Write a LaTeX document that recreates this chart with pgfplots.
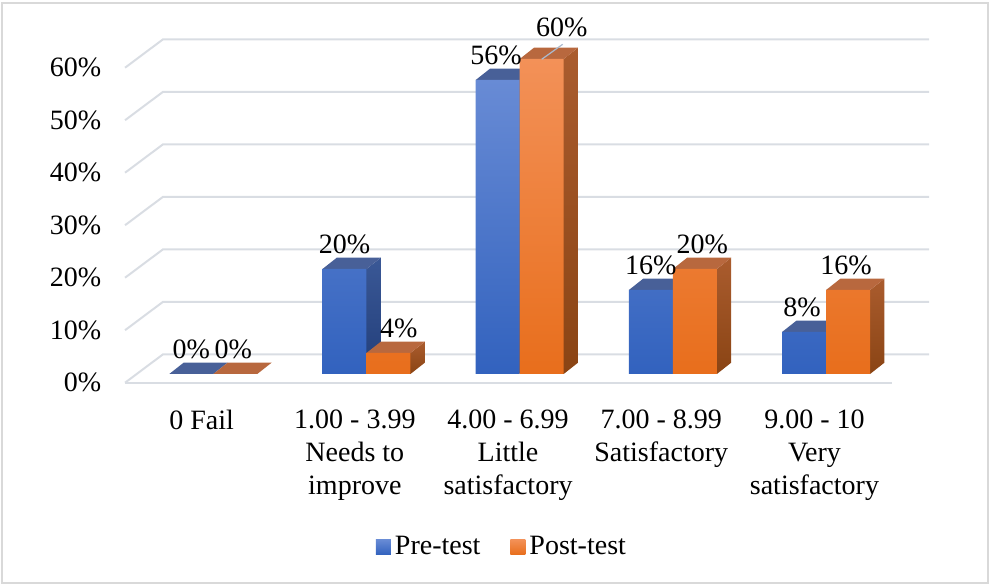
\documentclass[border=0pt]{standalone}
\usepackage{pgfplots}
\pgfplotsset{compat=1.18}
\usepackage{pgfplotstable}
\usepackage{fontspec}
\setmainfont{Liberation Serif}
\newcommand\fs{\fontsize{14}{16.65}\selectfont}
\definecolor{blueTop}{RGB}{104,139,213}
\definecolor{blueBot}{RGB}{50,98,190}
\definecolor{blueTF}{RGB}{72,96,152}
\definecolor{blueS1}{RGB}{58,88,150}
\definecolor{blueS2}{RGB}{34,62,122}
\definecolor{orTop}{RGB}{243,145,88}
\definecolor{orBot}{RGB}{232,110,28}
\definecolor{orTF}{RGB}{184,104,62}
\definecolor{orS1}{RGB}{170,92,46}
\definecolor{orS2}{RGB}{138,68,20}
\definecolor{gridc}{RGB}{217,221,227}
\definecolor{framec}{RGB}{217,217,217}

\pgfplotstableread{
x pre post pdx pdy qdx qdy
0 0  0  0    0 -1   0
1 20 4  0    0 5.2  0
2 56 60 -0.8 0 10   3.5
3 16 20 0    0 3.7  0
4 8  16 -1   0 -1   0
}\datatable

\begin{document}
\begin{tikzpicture}[font=\fs]
\begin{axis}[
  x=76.6pt, y=2.625pt,
  xmin=-0.576, xmax=4.672, ymin=-1.66, ymax=64.6,
  clip=false,
  axis line style={draw=none},
  tick style={draw=none},
  /pgf/number format/assume math mode=true,
  xtick={-0.076,0.924,1.924,2.924,3.924},
  xticklabels={0 Fail, {1.00 - 3.99\\Needs to\\improve}, {4.00 - 6.99\\Little\\satisfactory}, {7.00 - 8.99\\Satisfactory}, {9.00 - 10\\Very\\satisfactory}},
  xticklabel style={font=\fs, align=center, anchor=north, yshift=-10pt},
  ytick={-1.66,8.34,18.34,28.34,38.34,48.34,58.34},
  yticklabels={0\%,10\%,20\%,30\%,40\%,50\%,60\%},
  yticklabel style={font=\fs, anchor=east, xshift=-8.4pt},
  legend columns=2,
  legend style={at={(0.470,-0.4725)}, anchor=center, draw=none, fill=none, font=\fs,
    /tikz/every even column/.append style={column sep=13pt}},
  legend image code/.code={\path[#1,draw=none] (0pt,-3.75pt) rectangle (7.5pt,3.75pt);},
]
% frame and bounding box helpers
\draw[framec, line width=1pt] (axis cs:-1.3792,-39.81) rectangle (axis cs:5.0568,70.667);
\coordinate (BL) at (axis cs:-1.3923,-40.381);
\coordinate (TR) at (axis cs:5.0699,71.238);

% 3D gridlines
\addplot[gridc, line width=1pt, forget plot] coordinates {(-0.576,-1.66)(-0.328,3.75)(4.672,3.75)};
\addplot[gridc, line width=1pt, forget plot] coordinates {(-0.576,8.34)(-0.328,13.75)(4.672,13.75)};
\addplot[gridc, line width=1pt, forget plot] coordinates {(-0.576,18.34)(-0.328,23.75)(4.672,23.75)};
\addplot[gridc, line width=1pt, forget plot] coordinates {(-0.576,28.34)(-0.328,33.75)(4.672,33.75)};
\addplot[gridc, line width=1pt, forget plot] coordinates {(-0.576,38.34)(-0.328,43.75)(4.672,43.75)};
\addplot[gridc, line width=1pt, forget plot] coordinates {(-0.576,48.34)(-0.328,53.75)(4.672,53.75)};
\addplot[gridc, line width=1pt, forget plot] coordinates {(-0.576,58.34)(-0.328,63.75)(4.672,63.75)};
\addplot[gridc, line width=1pt, forget plot] coordinates {(-0.576,-1.66)(4.43,-1.66)};

% Pre-test: side faces, top faces, front faces
\addplot[draw=none, top color=blueS1, bottom color=blueS2, forget plot] coordinates {(1,0)(1.0933,2.15)(1.0933,22.15)(1,20)};
\addplot[draw=none, top color=blueS1, bottom color=blueS2, forget plot] coordinates {(2,0)(2.0933,2.15)(2.0933,58.15)(2,56)};
\addplot[draw=none, top color=blueS1, bottom color=blueS2, forget plot] coordinates {(3,0)(3.0933,2.15)(3.0933,18.15)(3,16)};
\addplot[draw=none, top color=blueS1, bottom color=blueS2, forget plot] coordinates {(4,0)(4.0933,2.15)(4.0933,10.15)(4,8)};
\addplot[draw=none, fill=blueTF, forget plot] coordinates {(-0.2872,0)(0,0)(0.0933,2.15)(-0.1939,2.15)};
\addplot[draw=none, fill=blueTF, forget plot] coordinates {(0.7128,20)(1,20)(1.0933,22.15)(0.8061,22.15)};
\addplot[draw=none, fill=blueTF, forget plot] coordinates {(1.7128,56)(2,56)(2.0933,58.15)(1.8061,58.15)};
\addplot[draw=none, fill=blueTF, forget plot] coordinates {(2.7128,16)(3,16)(3.0933,18.15)(2.8061,18.15)};
\addplot[draw=none, fill=blueTF, forget plot] coordinates {(3.7128,8)(4,8)(4.0933,10.15)(3.8061,10.15)};
\addplot[ybar, bar width=0.2872, bar shift=-0.1436, draw=none, top color=blueTop, bottom color=blueBot,
  restrict y to domain=0.5:100] table[x=x, y=pre]{\datatable};
\addlegendentry{Pre-test}

% Post-test
\addplot[draw=none, top color=orS1, bottom color=orS2, forget plot] coordinates {(1.2872,0)(1.3805,2.15)(1.3805,6.15)(1.2872,4)};
\addplot[draw=none, top color=orS1, bottom color=orS2, forget plot] coordinates {(2.2872,0)(2.3805,2.15)(2.3805,62.15)(2.2872,60)};
\addplot[draw=none, top color=orS1, bottom color=orS2, forget plot] coordinates {(3.2872,0)(3.3805,2.15)(3.3805,22.15)(3.2872,20)};
\addplot[draw=none, top color=orS1, bottom color=orS2, forget plot] coordinates {(4.2872,0)(4.3805,2.15)(4.3805,18.15)(4.2872,16)};
\addplot[draw=none, fill=orTF, forget plot] coordinates {(0,0)(0.2872,0)(0.3805,2.15)(0.0933,2.15)};
\addplot[draw=none, fill=orTF, forget plot] coordinates {(1,4)(1.2872,4)(1.3805,6.15)(1.0933,6.15)};
\addplot[draw=none, fill=orTF, forget plot] coordinates {(2,60)(2.2872,60)(2.3805,62.15)(2.0933,62.15)};
\addplot[draw=none, fill=orTF, forget plot] coordinates {(3,20)(3.2872,20)(3.3805,22.15)(3.0933,22.15)};
\addplot[draw=none, fill=orTF, forget plot] coordinates {(4,16)(4.2872,16)(4.3805,18.15)(4.0933,18.15)};
\addplot[ybar, bar width=0.2872, bar shift=0.1436, draw=none, top color=orTop, bottom color=orBot,
  restrict y to domain=0.5:100] table[x=x, y=post]{\datatable};
\addlegendentry{Post-test}

% leader line for 60%
\draw[color={rgb,255:red,170;green,186;blue,206}, line width=0.6pt] (axis cs:2.1436,59.94) -- (axis cs:2.2807,62.8);

% data labels
\addplot[draw=none, mark=none, forget plot, point meta=y,
  nodes near coords={\pgfmathprintnumber{\pgfplotspointmeta}\%},
  visualization depends on={\thisrow{pdx}\as\ldx},
  visualization depends on={\thisrow{pdy}\as\ldy},
  every node near coord/.append style={font=\fs, text=black, anchor=south, xshift=\ldx pt, yshift={4.1pt+\ldy pt}}]
  table[x expr=\thisrow{x}-0.1436, y=pre]{\datatable};
\addplot[draw=none, mark=none, forget plot, point meta=y,
  nodes near coords={\pgfmathprintnumber{\pgfplotspointmeta}\%},
  visualization depends on={\thisrow{qdx}\as\ldx},
  visualization depends on={\thisrow{qdy}\as\ldy},
  every node near coord/.append style={font=\fs, text=black, anchor=south, xshift=\ldx pt, yshift={4.1pt+\ldy pt}}]
  table[x expr=\thisrow{x}+0.1436, y=post]{\datatable};
\end{axis}
\pgfresetboundingbox
\path[use as bounding box] (BL) rectangle (TR);
\end{tikzpicture}
\end{document}
